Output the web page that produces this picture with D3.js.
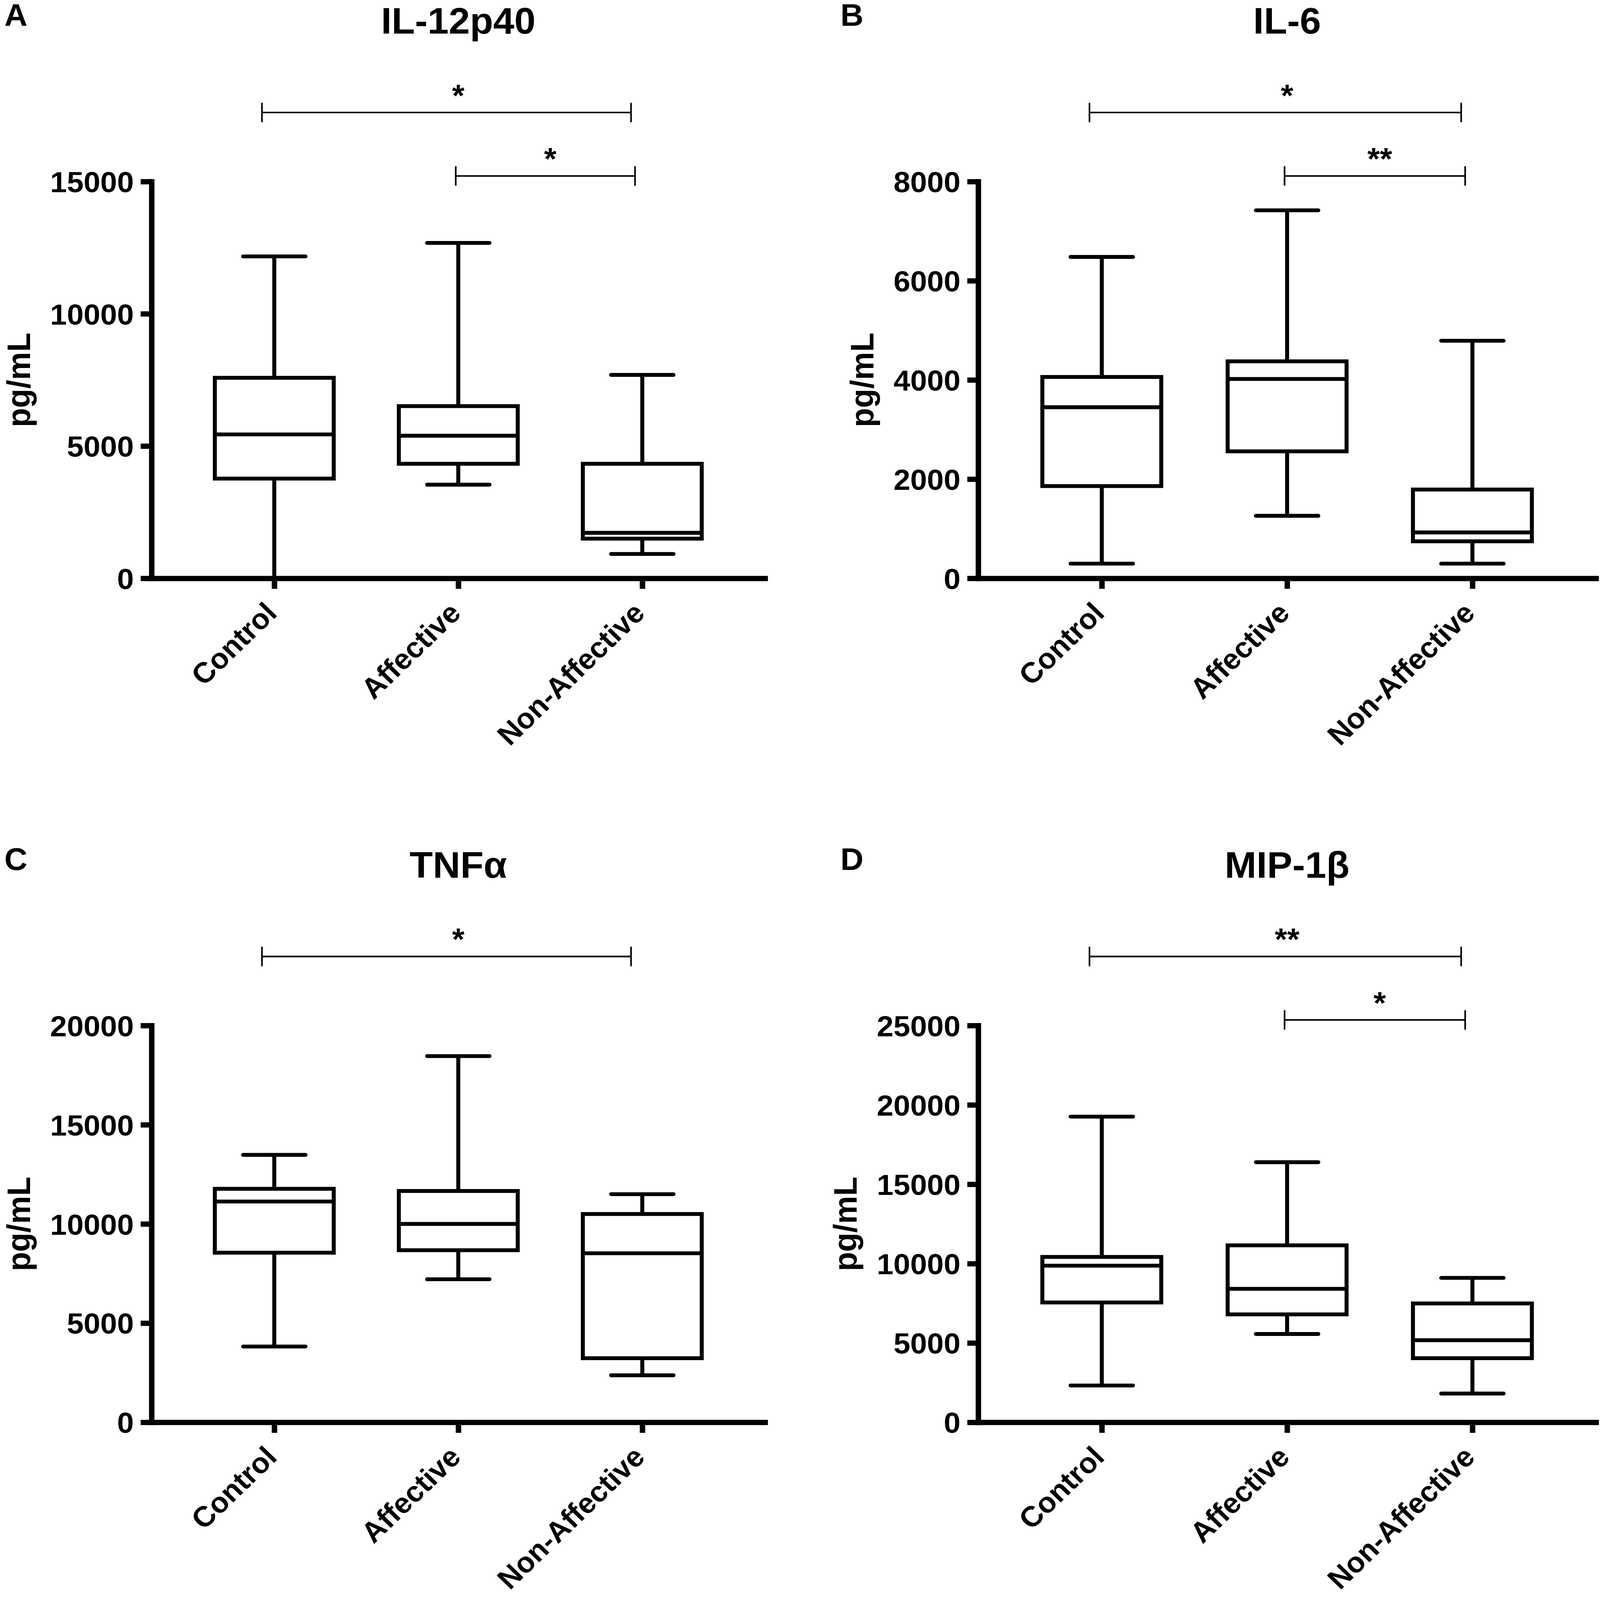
<!DOCTYPE html>
<html>
<head>
<meta charset="utf-8">
<script src="https://cdn.jsdelivr.net/npm/d3@7"></script>
<style>
  html, body { margin: 0; padding: 0; background: #fff; overflow: hidden; }
  svg { display: block; width: 100vw; height: 100vh; }
  text { font-family: "Liberation Sans", Arial, sans-serif; font-weight: bold; fill: #000; }
</style>
</head>
<body>
<div id="chart"></div>
<script>
// Groups on the x axis (same in every panel)
const groups = ['Control', 'Affective', 'Non-Affective'];

// Box summaries per group: [min, q1, median, q3, max] in pg/mL
const il12p40 = [[0, 3770, 5440, 7580, 12170], [3540, 4330, 5390, 6510, 12680], [920, 1500, 1720, 4330, 7690]];
const il6 = [[296, 1860, 3450, 4060, 6480], [1260, 2560, 4020, 4375, 7420], [296, 746, 925, 1790, 4790]];
const tnfa = [[3820, 8550, 11130, 11770, 13480], [7210, 8675, 10000, 11660, 18460], [2370, 3230, 8520, 10500, 11500]];
const mip1b = [[2320, 7550, 9870, 10420, 19260], [5565, 6800, 8410, 11150, 16390], [1810, 4040, 5170, 7490, 9100]];

// Y axis tick values
const il12p40Ticks = [0, 5000, 10000, 15000];
const il6Ticks = [0, 2000, 4000, 6000, 8000];
const tnfaTicks = [0, 5000, 10000, 15000, 20000];
const mip1bTicks = [0, 5000, 10000, 15000, 20000, 25000];

// Significance brackets: [from group, to group, label]
const il12p40Sig = [[0, 2, '*'], [1, 2, '*']];
const il6Sig = [[0, 2, '*'], [1, 2, '**']];
const tnfaSig = [[0, 2, '*']];
const mip1bSig = [[0, 2, '**'], [1, 2, '*']];

const panelLetters = ['A', 'B', 'C', 'D'];
const panelTitles = ['IL-12p40', 'IL-6', 'TNFα', 'MIP-1β'];
const yLabel = 'pg/mL';

const W = 4413, H = 4565;

// Layout
const cols = [
    { x0: 418, x1: 2110, letterX: 12 },
    { x0: 2698, x1: 4402, letterX: 2318 }
];
const rows = [
    { top: 518, bottom: 1650 },
    { top: 2926, bottom: 4058 }
];
const boxW = 328, capW = 172;
const lineW = 11, axisW = 15, bracketW = 4.5;
const bracketLevels = [197, 16];            // distance above plot top
const bracketShift = [[-34, -31], [-7, -20]]; // x nudge of bracket ends

const panels = [
    { stats: il12p40, ticks: il12p40Ticks, sig: il12p40Sig, col: 0, row: 0 },
    { stats: il6, ticks: il6Ticks, sig: il6Sig, col: 1, row: 0 },
    { stats: tnfa, ticks: tnfaTicks, sig: tnfaSig, col: 0, row: 1 },
    { stats: mip1b, ticks: mip1bTicks, sig: mip1bSig, col: 1, row: 1 }
];

// Stretch the drawing over the whole window
const svg = d3.select('#chart').append('svg')
    .attr('viewBox', `0 0 ${W} ${H}`)
    .attr('preserveAspectRatio', 'none');

svg.append('rect').attr('width', W).attr('height', H).attr('fill', '#fff');

panels.forEach((p, i) => {
    const c = cols[p.col], r = rows[p.row];
    const g = svg.append('g').attr('class', 'panel');

    const x = d3.scalePoint()
        .domain(groups)
        .range([c.x0, c.x1])
        .padding(0.667);

    const y = d3.scaleLinear()
        .domain([0, d3.max(p.ticks)])
        .range([r.bottom, r.top]);

    // Boxes
    const box = g.selectAll('g.box')
        .data(p.stats.map((s, k) => ({ group: groups[k], min: s[0], q1: s[1], med: s[2], q3: s[3], max: s[4] })))
        .enter()
        .append('g')
        .attr('class', 'box')
        .attr('transform', d => `translate(${x(d.group)},0)`);

    box.append('line')
        .attr('y1', d => y(d.max)).attr('y2', d => y(d.q3))
        .attr('stroke', '#000').attr('stroke-width', lineW);
    box.append('line')
        .attr('y1', d => y(d.q1)).attr('y2', d => y(d.min))
        .attr('stroke', '#000').attr('stroke-width', lineW);

    ['min', 'max'].forEach(k => {
        box.append('line')
            .attr('x1', -capW / 2).attr('x2', capW / 2)
            .attr('y1', d => y(d[k])).attr('y2', d => y(d[k]))
            .attr('stroke', '#000').attr('stroke-width', lineW)
            .attr('stroke-linecap', 'round');
    });

    box.append('rect')
        .attr('x', -boxW / 2)
        .attr('width', boxW)
        .attr('y', d => y(d.q3))
        .attr('height', d => y(d.q1) - y(d.q3))
        .attr('fill', '#fff')
        .attr('stroke', '#000')
        .attr('stroke-width', lineW);

    box.append('line')
        .attr('x1', -boxW / 2).attr('x2', boxW / 2)
        .attr('y1', d => y(d.med)).attr('y2', d => y(d.med))
        .attr('stroke', '#000').attr('stroke-width', lineW);

    // Y axis
    const yAxis = g.append('g')
        .attr('transform', `translate(${c.x0},0)`)
        .call(d3.axisLeft(y).tickValues(p.ticks).tickFormat(d3.format('d'))
            .tickSize(30).tickSizeOuter(0).tickPadding(19));
    yAxis.attr('font-family', null);
    yAxis.select('.domain').attr('stroke-width', axisW).attr('stroke-linecap', 'square');
    yAxis.selectAll('.tick line').attr('stroke-width', axisW);
    yAxis.selectAll('.tick text')
        .attr('font-size', 83)
        .attr('dy', '0.36em');

    // X axis
    const xAxis = g.append('g')
        .attr('transform', `translate(0,${r.bottom})`)
        .call(d3.axisBottom(x).tickSize(30).tickSizeOuter(0));
    xAxis.attr('font-family', null);
    xAxis.select('.domain').attr('stroke-width', axisW).attr('stroke-linecap', 'square');
    xAxis.selectAll('.tick line').attr('stroke-width', axisW);
    xAxis.selectAll('.tick text')
        .attr('font-size', 82)
        .attr('x', 0).attr('y', 0).attr('dy', 0)
        .attr('text-anchor', 'end')
        .attr('transform', 'translate(11,104) rotate(-45)');

    // Y label, placed left of the tick labels
    const bb = yAxis.node().getBBox();
    const labelX = c.x0 + bb.x - 55;
    g.append('text')
        .attr('transform', `translate(${labelX},${(r.top + r.bottom) / 2}) rotate(-90)`)
        .attr('text-anchor', 'middle')
        .attr('font-size', 90)
        .text(yLabel);

    // Title and panel letter
    g.append('text')
        .attr('x', x(groups[1]))
        .attr('y', r.top - 422)
        .attr('text-anchor', 'middle')
        .attr('font-size', 105)
        .text(panelTitles[i]);

    g.append('text')
        .attr('x', c.letterX)
        .attr('y', r.top - 444)
        .attr('font-size', 88)
        .text(panelLetters[i]);

    // Significance brackets
    p.sig.forEach((s, lvl) => {
        const yb = r.top - bracketLevels[lvl];
        const xa = x(groups[s[0]]) + bracketShift[lvl][0];
        const xb = x(groups[s[1]]) + bracketShift[lvl][1];
        g.append('path')
            .attr('d', `M${xa},${yb - 26}V${yb + 26}M${xa},${yb}H${xb}M${xb},${yb - 26}V${yb + 26}`)
            .attr('fill', 'none')
            .attr('stroke', '#000')
            .attr('stroke-width', bracketW)
            .attr('stroke-linecap', 'round');
        g.append('text')
            .attr('x', (x(groups[s[0]]) + x(groups[s[1]])) / 2)
            .attr('y', yb - 18)
            .attr('text-anchor', 'middle')
            .attr('font-size', 88)
            .text(s[2]);
    });
});
</script>
</body>
</html>
